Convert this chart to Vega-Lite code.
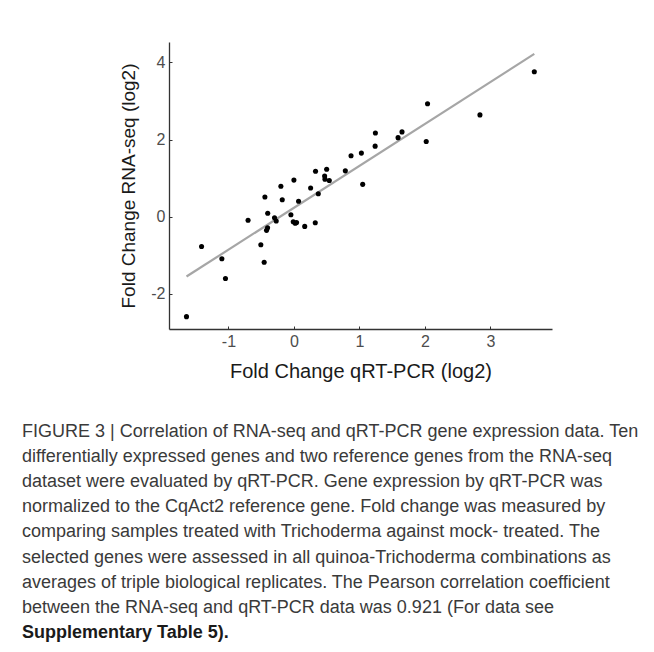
{
  "$schema": "https://vega.github.io/schema/vega-lite/v6.json",
  "autosize": {"type": "none"},
  "width": 383,
  "height": 287,
  "padding": {"left": 169, "top": 42, "right": 102, "bottom": 323},
  "background": "white",
  "config": {
    "font": "Liberation Sans",
    "view": {"stroke": null},
    "axis": {"grid": false}
  },
  "title": {
    "text": [
      "FIGURE 3 | Correlation of RNA-seq and qRT-PCR gene expression data. Ten",
      "differentially expressed genes and two reference genes from the RNA-seq",
      "dataset were evaluated by qRT-PCR. Gene expression by qRT-PCR was",
      "normalized to the CqAct2 reference gene. Fold change was measured by",
      "comparing samples treated with Trichoderma against mock- treated. The",
      "selected genes were assessed in all quinoa-Trichoderma combinations as",
      "averages of triple biological replicates. The Pearson correlation coefficient",
      "between the RNA-seq and qRT-PCR data was 0.921 (For data see"
    ],
    "subtitle": "Supplementary Table 5).",
    "orient": "bottom",
    "anchor": "start",
    "frame": "group",
    "dx": -147,
    "offset": 42,
    "font": "Liberation Sans",
    "fontSize": 18,
    "fontWeight": "normal",
    "color": "#3a3a3a",
    "lineHeight": 25.1,
    "subtitleFont": "Liberation Sans",
    "subtitleFontSize": 18,
    "subtitleFontWeight": "bold",
    "subtitleColor": "#1a1a1a",
    "subtitlePadding": 7
  },
  "data": {
    "values": [
      {"qpcr": -1.64, "rnaseq": -2.59},
      {"qpcr": -1.41, "rnaseq": -0.77},
      {"qpcr": -1.10, "rnaseq": -1.09},
      {"qpcr": -1.045, "rnaseq": -1.60},
      {"qpcr": -0.70, "rnaseq": -0.09},
      {"qpcr": -0.505, "rnaseq": -0.725},
      {"qpcr": -0.454, "rnaseq": -1.18},
      {"qpcr": -0.443, "rnaseq": 0.51},
      {"qpcr": -0.40, "rnaseq": 0.09},
      {"qpcr": -0.402, "rnaseq": -0.285},
      {"qpcr": -0.418, "rnaseq": -0.353},
      {"qpcr": -0.296, "rnaseq": -0.026},
      {"qpcr": -0.27, "rnaseq": -0.11},
      {"qpcr": -0.199, "rnaseq": 0.79},
      {"qpcr": -0.178, "rnaseq": 0.44},
      {"qpcr": -0.046, "rnaseq": 0.05},
      {"qpcr": 0.0, "rnaseq": 0.95},
      {"qpcr": -0.01, "rnaseq": -0.13},
      {"qpcr": 0.02, "rnaseq": -0.17},
      {"qpcr": 0.04, "rnaseq": -0.15},
      {"qpcr": 0.071, "rnaseq": 0.40},
      {"qpcr": 0.165, "rnaseq": -0.25},
      {"qpcr": 0.255, "rnaseq": 0.745},
      {"qpcr": 0.326, "rnaseq": -0.155},
      {"qpcr": 0.33, "rnaseq": 1.18},
      {"qpcr": 0.372, "rnaseq": 0.595},
      {"qpcr": 0.469, "rnaseq": 1.055},
      {"qpcr": 0.474, "rnaseq": 0.975},
      {"qpcr": 0.50, "rnaseq": 1.23},
      {"qpcr": 0.54, "rnaseq": 0.94},
      {"qpcr": 0.785, "rnaseq": 1.19},
      {"qpcr": 0.872, "rnaseq": 1.58},
      {"qpcr": 1.03, "rnaseq": 1.65},
      {"qpcr": 1.05, "rnaseq": 0.84},
      {"qpcr": 1.24, "rnaseq": 1.83},
      {"qpcr": 1.244, "rnaseq": 2.17},
      {"qpcr": 1.59, "rnaseq": 2.05},
      {"qpcr": 1.65, "rnaseq": 2.20},
      {"qpcr": 2.02, "rnaseq": 1.95},
      {"qpcr": 2.04, "rnaseq": 2.93},
      {"qpcr": 2.84, "rnaseq": 2.64},
      {"qpcr": 3.67, "rnaseq": 3.76}
    ]
  },
  "encoding": {
    "x": {
      "field": "qpcr",
      "type": "quantitative",
      "scale": {"domain": [-1.907, 3.94], "nice": false, "zero": false},
      "axis": {
        "title": "Fold Change qRT-PCR (log2)",
        "values": [-1, 0, 1, 2, 3],
        "labelExpr": "'' + datum.value",
        "labelFontSize": 16,
        "labelColor": "#4d4d4d",
        "labelPadding": 7,
        "tickSize": -3,
        "tickColor": "#333333",
        "domainColor": "#333333",
        "domainWidth": 1.3,
        "titleFontSize": 20,
        "titleFontWeight": "normal",
        "titleColor": "#1a1a1a",
        "titlePadding": 12
      }
    },
    "y": {
      "field": "rnaseq",
      "type": "quantitative",
      "scale": {"domain": [-2.91, 4.53], "nice": false, "zero": false},
      "axis": {
        "title": "Fold Change RNA-seq (log2)",
        "values": [-2, 0, 2, 4],
        "labelExpr": "'' + datum.value",
        "labelFontSize": 16,
        "labelColor": "#4d4d4d",
        "labelPadding": 7,
        "tickSize": -3,
        "tickColor": "#333333",
        "domainColor": "#333333",
        "domainWidth": 1.3,
        "titleFontSize": 19,
        "titleFontWeight": "normal",
        "titleColor": "#1a1a1a",
        "titlePadding": 12
      }
    }
  },
  "layer": [
    {
      "transform": [{"regression": "rnaseq", "on": "qpcr"}],
      "mark": {"type": "line", "color": "#a6a6a6", "strokeWidth": 2.2}
    },
    {
      "mark": {"type": "circle", "color": "black", "opacity": 1, "size": 26}
    }
  ]
}
